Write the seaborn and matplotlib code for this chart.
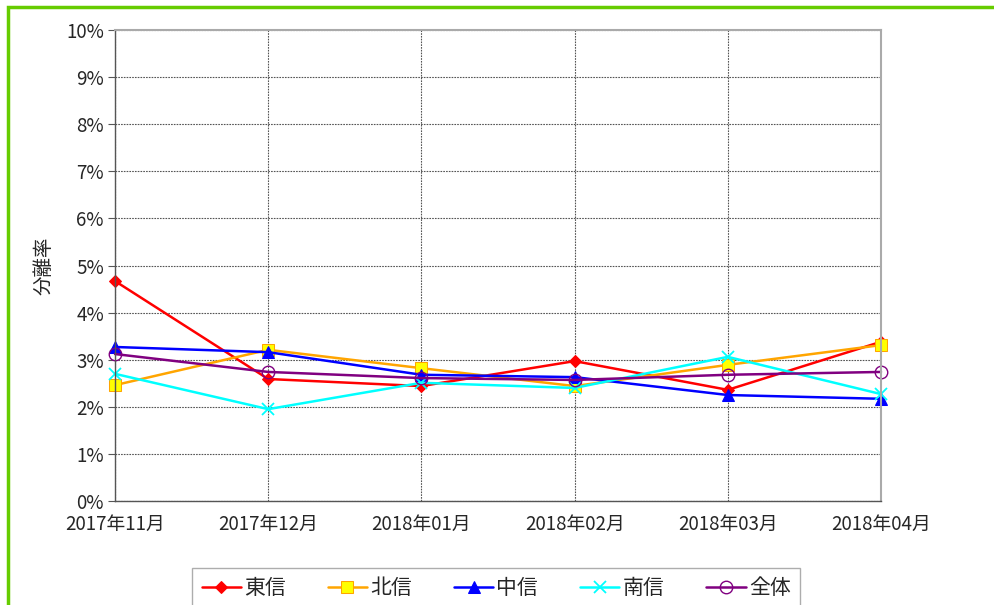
import pandas as pd
import numpy as np
import seaborn as sns
from matplotlib import pyplot as plt
from matplotlib.patches import Rectangle
from matplotlib.ticker import FuncFormatter

# data (percent)
months = ['2017年11月', '2017年12月', '2018年01月', '2018年02月', '2018年03月', '2018年04月']
toshin = [4.67, 2.59, 2.44, 2.97, 2.36, 3.38]
hokushin = [2.46, 3.21, 2.82, 2.44, 2.89, 3.31]
chushin = [3.27, 3.16, 2.68, 2.63, 2.25, 2.17]
nanshin = [2.70, 1.95, 2.51, 2.40, 3.06, 2.27]
zentai = [3.12, 2.74, 2.61, 2.57, 2.68, 2.74]

series = {'東信': toshin, '北信': hokushin, '中信': chushin, '南信': nanshin, '全体': zentai}

# marker / colour style per series
styles = {
    '東信': dict(color='#ff0000', marker='D', markersize=6, markerfacecolor='#ff0000', markeredgecolor='#ff0000'),
    '北信': dict(color='#ffa500', marker='s', markersize=9, markerfacecolor='#ffff00', markeredgecolor='#ffa500'),
    '中信': dict(color='#0000ff', marker='^', markersize=8, markerfacecolor='#0000ff', markeredgecolor='#0000ff'),
    '南信': dict(color='#00ffff', marker='x', markersize=9, markeredgecolor='#00ffff', markeredgewidth=1.3),
    '全体': dict(color='#800080', marker='o', markersize=9, markerfacecolor='none', markeredgecolor='#800080', markeredgewidth=1.0),
}

sns.set_style('white')
plt.rcParams['font.family'] = ['Noto Sans CJK JP', 'DejaVu Sans']

fig = plt.figure(figsize=(9.95, 6.05), dpi=100)
ax = fig.add_axes([115 / 995, 1 - 501 / 605, (881 - 115) / 995, (501 - 30) / 605])

x = np.arange(len(months))
for name, vals in series.items():
    df = pd.DataFrame({'x': x, 'v': vals})
    sns.lineplot(data=df, x='x', y='v', ax=ax, label=name, linewidth=1.8, clip_on=False, **styles[name])

ax.set_xlim(0, len(months) - 1)
ax.set_ylim(0, 10)
ax.set_xticks(x)
ax.set_xticklabels(months, fontsize=13.5)
ax.set_yticks(np.arange(0, 11, 1))
ax.yaxis.set_major_formatter(FuncFormatter(lambda v, p: f'{int(v)}%'))
ax.tick_params(axis='y', labelsize=13.5, length=5, width=0.8, color='#555555', left=True, pad=3)
ax.tick_params(axis='x', length=0, pad=9)
ax.set_xlabel('')
ax.set_ylabel('分離率', fontsize=14, labelpad=8)

ax.grid(True, color='#555555', linestyle=(0, (1.5, 1)), linewidth=0.8)
ax.set_axisbelow(True)
for s in ['top', 'right']:
    ax.spines[s].set_color('#aaaaaa')
    ax.spines[s].set_linewidth(1.5)
for s in ['left', 'bottom']:
    ax.spines[s].set_color('#555555')
    ax.spines[s].set_linewidth(1.0)

leg = ax.legend(loc='upper center', bbox_to_anchor=(496 / 995, 1 - 568 / 605), bbox_transform=fig.transFigure,
                ncol=5, frameon=True, fancybox=False, fontsize=15, handlelength=1.9,
                columnspacing=2.0, borderpad=0.45, handletextpad=0.15, borderaxespad=0)
leg.get_frame().set_edgecolor('#999999')
leg.get_frame().set_linewidth(1.0)

# green outer frame of the chart area
fig.patches.append(Rectangle((8 / 995, -0.05), 1.1, 1 - 7 / 605 + 0.05, transform=fig.transFigure,
                             fill=False, edgecolor='#66cc00', linewidth=2.5, clip_on=False))

fig.savefig('out.png', dpi=100)
